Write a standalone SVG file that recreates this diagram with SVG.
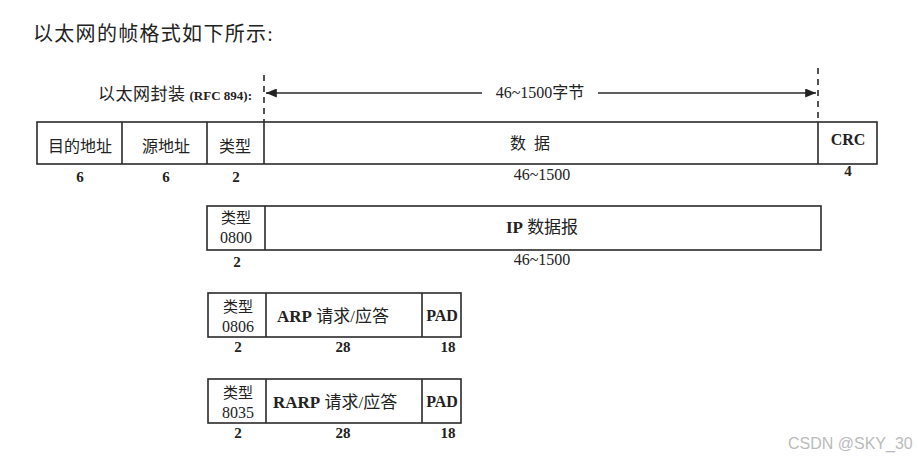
<svg xmlns="http://www.w3.org/2000/svg" width="918" height="459" viewBox="0 0 918 459">
<style>
.t{font-family:"Liberation Serif","Noto Sans CJK SC",serif;fill:#222;}
.c{text-anchor:middle;}
.b{font-weight:bold;}
.box{fill:#fff;stroke:#2a2a2a;stroke-width:1.6;}
.ln{stroke:#2a2a2a;stroke-width:1.6;fill:none;}
.dash{stroke:#2a2a2a;stroke-width:1.6;stroke-dasharray:6,5;fill:none;}
</style>
<defs>
<marker id="ah" viewBox="0 0 12 10" refX="12" refY="5" markerWidth="12" markerHeight="9" markerUnits="userSpaceOnUse" orient="auto-start-reverse">
<path d="M0,0 L12,5 L0,10 z" fill="#222"/>
</marker>
</defs>
<rect width="918" height="459" fill="#fff"/>
<text class="t" x="33" y="41" font-size="20" letter-spacing="1.3">以太网的帧格式如下所示:</text>

<g id="encap-label">
<text class="t" x="252" y="100" text-anchor="end" font-size="17"><tspan letter-spacing="0.5">以太网封装</tspan><tspan class="b" font-size="13" dx="4">(RFC 894):</tspan></text>
</g>

<g id="connectors">
<path class="dash" d="M264,75 V122"/>
<path class="dash" d="M818,68 V121"/>
<path class="ln" d="M482,93 H266" marker-end="url(#ah)"/>
<path class="ln" d="M598,93 H816" marker-end="url(#ah)"/>
<text class="t c" x="540" y="98" font-size="16">46~1500字节</text>
</g>

<g id="ethernet-frame">
<rect class="box" x="37" y="122" width="840" height="42"/>
<path class="ln" d="M122,122 V164 M207,122 V164 M264,122 V164 M818,122 V164"/>
<text class="t c" x="80" y="152" font-size="16">目的地址</text>
<text class="t c" x="166" y="152" font-size="16">源地址</text>
<text class="t c" x="235" y="152" font-size="16">类型</text>
<text class="t c" x="534" y="149" font-size="16" letter-spacing="8">数据</text>
<text class="t c b" x="848" y="145" font-size="16">CRC</text>
<text class="t c b" x="80" y="182" font-size="15">6</text>
<text class="t c b" x="166" y="182" font-size="15">6</text>
<text class="t c b" x="236" y="182" font-size="15">2</text>
<text class="t c" x="542" y="180" font-size="16">46~1500</text>
<text class="t c b" x="848" y="176" font-size="15">4</text>
</g>

<g id="ip-frame">
<rect class="box" x="207" y="206" width="614" height="44"/>
<path class="ln" d="M265,206 V250"/>
<text class="t c" x="236" y="223" font-size="15">类型</text>
<text class="t c" x="236" y="243" font-size="16">0800</text>
<text class="t c" x="542" y="233" font-size="17"><tspan class="b">IP</tspan> 数据报</text>
<text class="t c b" x="237" y="267" font-size="15">2</text>
<text class="t c" x="542" y="265" font-size="16">46~1500</text>
</g>

<g id="arp-frame">
<rect class="box" x="208" y="293" width="253" height="44"/>
<path class="ln" d="M266,293 V337 M422,293 V337"/>
<text class="t c" x="238" y="312" font-size="15">类型</text>
<text class="t c" x="238" y="332" font-size="16">0806</text>
<text class="t" x="277" y="322" font-size="17"><tspan class="b">ARP</tspan> 请求/应答</text>
<text class="t c b" x="442" y="321" font-size="16">PAD</text>
<text class="t c b" x="238" y="352" font-size="15">2</text>
<text class="t c b" x="343" y="352" font-size="15">28</text>
<text class="t c b" x="448" y="352" font-size="15">18</text>
</g>

<g id="rarp-frame">
<rect class="box" x="208" y="379" width="253" height="44"/>
<path class="ln" d="M266,379 V423 M422,379 V423"/>
<text class="t c" x="238" y="398" font-size="15">类型</text>
<text class="t c" x="238" y="418" font-size="16">8035</text>
<text class="t" x="273" y="408" font-size="17"><tspan class="b">RARP</tspan> 请求/应答</text>
<text class="t c b" x="442" y="407" font-size="16">PAD</text>
<text class="t c b" x="238" y="438" font-size="15">2</text>
<text class="t c b" x="343" y="438" font-size="15">28</text>
<text class="t c b" x="448" y="438" font-size="15">18</text>
</g>

<text x="788" y="449" font-family="Liberation Sans, Arial, sans-serif" font-size="16" fill="#bbb">CSDN @SKY_30</text>
</svg>
